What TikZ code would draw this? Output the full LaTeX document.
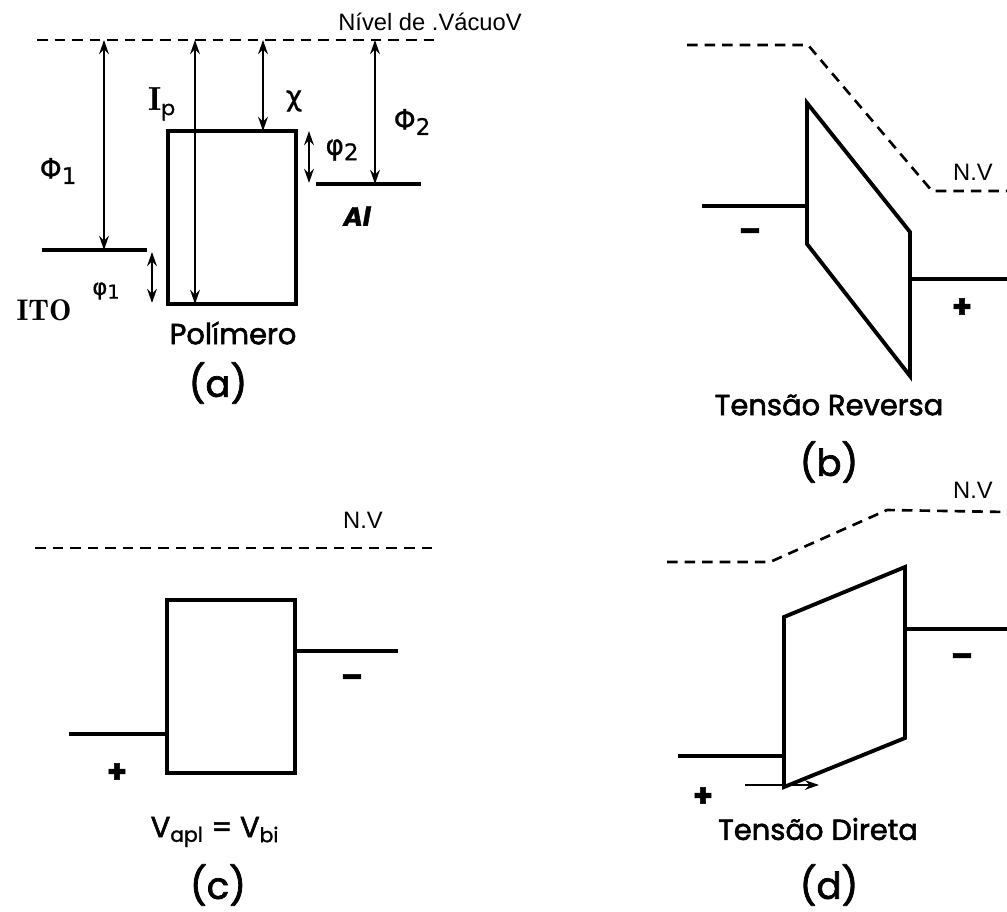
\documentclass[tikz,border=0pt]{standalone}
\usepackage{fontspec}
\setmainfont{Poppins}[FakeBold=1.5]
\newfontfamily\medfont{Poppins}[FakeBold=2]
\newfontfamily\nvfont{Liberation Sans}
\newfontfamily\grfont{DejaVu Sans}[FakeBold=0.6]
\usetikzlibrary{arrows.meta}

\begin{document}
\begin{tikzpicture}[x=0.02cm, y=-0.02cm,
  lvl/.style={line width=1.8pt},
  band/.style={line width=2.2pt, line join=miter},
  vac/.style={line width=1.5pt, dash pattern=on 6pt off 4pt},
  arr/.style={{Stealth[length=8pt,width=5.5pt]}-{Stealth[length=8pt,width=5.5pt]}, line width=1.3pt},
  lab/.style={font=\medfont\fontsize{16.5}{18}\selectfont, inner sep=0pt},
  nv/.style={font=\nvfont\fontsize{13.5}{16}\selectfont, inner sep=0pt},
  gr/.style={font=\grfont\fontsize{16}{18}\selectfont, inner sep=0pt},
  sym/.style={font=\bfseries\fontsize{18}{20}\selectfont, inner sep=0pt},
  tag/.style={font=\medfont\fontsize{21}{24}\selectfont, inner sep=0pt}]

  \useasboundingbox (0,0) rectangle (1007,912);

  % (a) equilibrio: niveis antes do contato
  \draw[vac] (37,40) -- (438,40);
  \node[nv, anchor=west] (vacA) at (338,22) {Nível de .VácuoV};
  \draw[band] (168,131) rectangle (296,304);
  \draw[lvl] (42,250) coordinate (itoL) -- (147,250) coordinate (itoR);
  \draw[lvl] (316,184) coordinate (alL) -- (421,184) coordinate (alR);
  \coordinate (phiT) at (104,40);  \coordinate (phiB) at (104,250);
  \coordinate (ipT) at (195,40);   \coordinate (ipB) at (195,304);
  \coordinate (chiT) at (263,40);  \coordinate (chiB) at (263,131);
  \coordinate (phtT) at (375,40);  \coordinate (phtB) at (375,184);
  \draw[arr] (phiT) -- (phiB);
  \draw[arr] (ipT) -- (ipB);
  \draw[arr] (chiT) -- (chiB);
  \draw[arr] (phtT) -- (phtB);
  \draw[arr] (152,252) -- (152,303);
  \draw[arr] (309,131) -- (309,183);
  \node[gr] (lPhi1) at (58,171) {Φ\raisebox{-0.35ex}{\fontsize{13}{14}\selectfont 1}};
  \node[gr, font=\grfont\fontsize{13}{14}\selectfont] (lphi1) at (106,291) {φ\raisebox{-0.3ex}{\fontsize{11}{12}\selectfont 1}};
  \node[lab] (lIto) at (44,310) {{\fontfamily{lmr}\fontsize{17}{18}\bfseries\selectfont ITO}};
  \node[lab] (lIp) at (162,104) {{\fontfamily{lmr}\fontsize{19}{20}\bfseries\selectfont I}$_{\mathrm{p}}$};
  \node[gr] (lChi) at (294,101) {χ};
  \node[gr] (lphi2) at (342,150) {φ\raisebox{-0.35ex}{\fontsize{13}{14}\selectfont 2}};
  \node[gr] (lPhi2) at (412,122) {Φ\raisebox{-0.35ex}{\fontsize{13}{14}\selectfont 2}};
  \node[lab, font=\bfseries\itshape\fontsize{15}{16}\selectfont] (lAl) at (357,216) {Al};
  \node[lab] (lPol) at (233,333) {Polímero};
  \node[tag] (tagA) at (218,383) {(a)};

  % (b) tensao reversa
  \draw[vac] (687,45) -- (808,45) -- (932,191) -- (1007,191);
  \node[nv] (nvB) at (973,172) {N.V};
  \draw[band] (807,103) -- (910,232) -- (910,376) -- (807,244) -- cycle;
  \draw[lvl] (702,206) -- (807,206);
  \draw[lvl] (910,279) -- (1007,279);
  \node[sym] (minB) at (750,235) {–};
  \node[sym] (plusB) at (962,308) {+};
  \node[lab] (lRev) at (829,405) {Tensão Reversa};
  \node[tag] (tagB) at (829,462) {(b)};

  % (c) banda plana
  \draw[vac] (35,548) -- (437,548);
  \node[nv] (nvC) at (363,520) {N.V};
  \draw[band] (167,600) rectangle (295,773);
  \draw[lvl] (295,651) -- (398,651);
  \draw[lvl] (69,734) -- (167,734);
  \node[sym] (minC) at (352,681) {–};
  \node[sym] (plusC) at (117,773) {+};
  \node[lab] (lFlat) at (215,832) {V$_{\mathrm{apl}}$ = V$_{\mathrm{bi}}$};
  \node[tag] (tagC) at (218,885) {(c)};

  % (d) tensao direta
  \draw[vac] (667,562) -- (770,562) -- (887,510) -- (1007,512);
  \node[nv] (nvD) at (973,490) {N.V};
  \draw[band] (784,617) -- (905,567) -- (905,738) -- (784,787) -- cycle;
  \draw[lvl] (905,629) -- (1007,629);
  \draw[lvl] (678,756) -- (784,756);
  \coordinate (injL) at (745,785); \coordinate (injR) at (819,785);
  \draw[-{Stealth[length=8pt,width=5.5pt]}, line width=1pt] (injL) -- (injR);
  \node[sym] (minD) at (962,660) {–};
  \node[sym] (plusD) at (703,797) {+};
  \node[lab] (lDir) at (818,829) {Tensão Direta};
  \node[tag] (tagD) at (829,885) {(d)};
\end{tikzpicture}
\end{document}
